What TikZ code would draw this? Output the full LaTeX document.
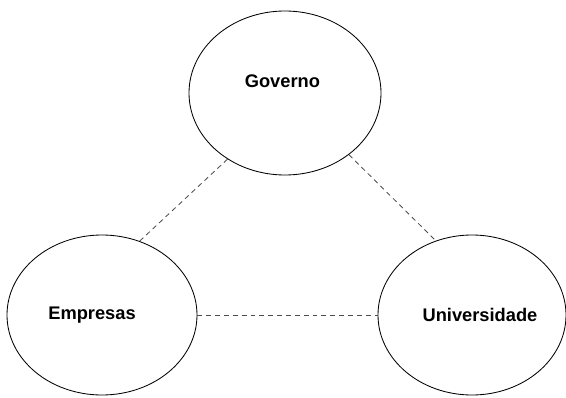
\documentclass[tikz,border=0pt]{standalone}
\usepackage{fontspec}
\setmainfont{Liberation Sans}
\usetikzlibrary{shapes.geometric}
\begin{document}
\begin{tikzpicture}[
    actor/.style={draw, ellipse, line width=0.6pt, inner sep=0pt},
    actorlabel/.style={font=\bfseries\fontsize{13}{15}\selectfont},
    link/.style={draw=black!70, line width=0.6pt, dash pattern=on 3.5pt off 2.8pt}]
  \useasboundingbox (0,0) rectangle (14.15,9.925);

  \node[actor, minimum width=4.8cm, minimum height=4.1cm] (gov) at (7.125,7.6) {};
  \node[actor, minimum width=4.75cm, minimum height=4.0cm] (emp) at (2.55,2.05) {};
  \node[actor, minimum width=4.7cm, minimum height=4.0cm] (uni) at (11.8,2.05) {};

  \node[actorlabel] (govtxt) at (7.06,7.9) {Governo};
  \node[actorlabel] (emptxt) at (2.3,2.05) {Empresas};
  \node[actorlabel] (unitxt) at (12.0,2.05) {Universidade};

  % ligacoes
  \draw[link] (gov.229) -- (emp.63);
  \draw[link] (gov.316) -- (uni.116);
  \draw[link] (emp.east) -- (uni.west);
\end{tikzpicture}
\end{document}
